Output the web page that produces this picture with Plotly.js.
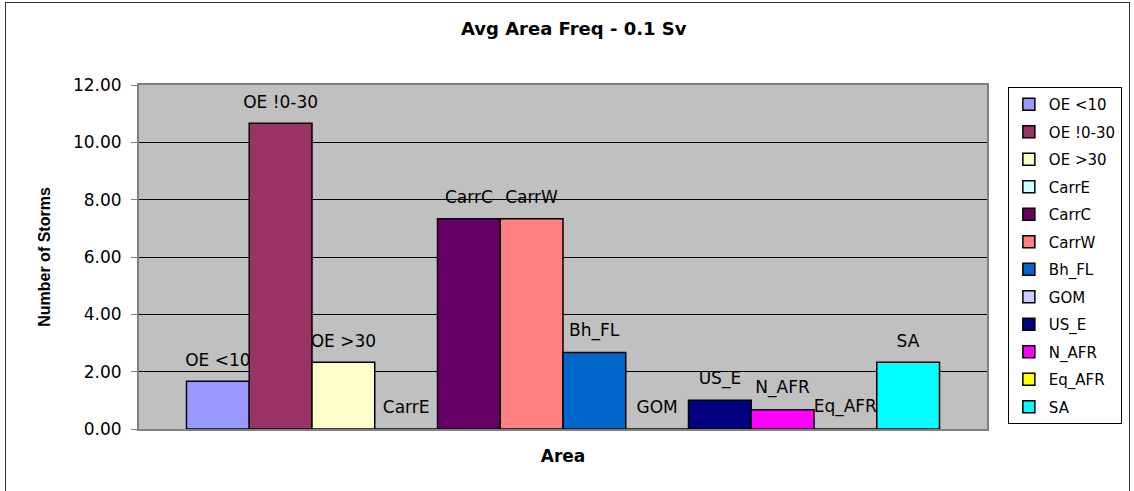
<!DOCTYPE html>
<html>
<head>
<meta charset="utf-8">
<script src="https://cdn.plot.ly/plotly-3.0.1.min.js"></script>
<style>
  html, body { margin: 0; padding: 0; background: #ffffff; }
  #wrap { position: relative; width: 1134px; height: 491px; overflow: hidden; }
  #chart { position: absolute; left: 0; top: 0; width: 1134px; height: 491px; }
  #frame { position: absolute; left: 5px; top: 2px; width: 1123px; height: 600px;
           border: 1.5px solid #333333; pointer-events: none; }
</style>
</head>
<body>
<div id="wrap">
  <div id="chart"></div>
  <div id="frame"></div>
</div>
<script>
// ---- data ----
const seriesNames = ['OE <10', 'OE !0-30', 'OE >30', 'CarrE', 'CarrC', 'CarrW',
                     'Bh_FL', 'GOM', 'US_E', 'N_AFR', 'Eq_AFR', 'SA'];
const seriesValues = [1.67, 10.67, 2.33, 0.00, 7.33, 7.33,
                      2.67, 0.00, 1.00, 0.67, 0.00, 2.33];
const seriesColors = ['#9999FF', '#993366', '#FFFFCC', '#CCFFFF', '#660066', '#FF8080',
                      '#0066CC', '#CCCCFF', '#000080', '#FF00FF', '#FFFF00', '#00FFFF'];
const category = [0];
const yTicks = [0, 2, 4, 6, 8, 10, 12];

const traces = [];
seriesNames.forEach((name, i) => {
  traces.push({
    type: 'bar',
    name: name,
    x: category,
    y: [seriesValues[i]],
    legendgroup: 'g' + i,
    marker: { color: seriesColors[i], line: { color: '#000000', width: 1.5 } },
    hoverinfo: 'skip'
  });
});
// label layer (same grouping on an overlaid axis, lifted slightly)
seriesNames.forEach((name, i) => {
  traces.push({
    type: 'bar',
    name: name,
    x: category,
    y: [seriesValues[i]],
    yaxis: 'y2',
    showlegend: false,
    legendgroup: 'g' + i,
    text: [name],
    textposition: 'outside',
    constraintext: 'none',
    cliponaxis: false,
    textfont: { family: 'DejaVu Sans', size: 17, color: '#000000' },
    marker: { color: 'rgba(0,0,0,0)', line: { width: 0 } },
    hoverinfo: 'skip'
  });
});

const layout = {
  width: 1134,
  height: 491,
  paper_bgcolor: '#ffffff',
  plot_bgcolor: '#C0C0C0',
  margin: { l: 139, r: 140, t: 85, b: 62 },
  barmode: 'group',
  bargap: 0.112,
  bargroupgap: 0,
  showlegend: true,
  hovermode: false,
  title: {
    text: 'Avg Area Freq - 0.1 Sv',
    font: { family: 'DejaVu Sans', size: 18, color: '#000000', weight: 'bold' },
    x: 0.506, xanchor: 'center',
    y: 0.941, yanchor: 'middle'
  },
  xaxis: {
    type: 'linear',
    range: [-0.5, 0.5],
    showticklabels: false,
    ticks: '',
    showgrid: false,
    zeroline: false,
    showline: true,
    mirror: true,
    linecolor: '#808080',
    linewidth: 2,
    title: {
      text: 'Area',
      font: { family: 'DejaVu Sans', size: 17, color: '#000000', weight: 'bold' },
      standoff: 20
    }
  },
  yaxis: {
    range: [0, 12],
    tickvals: yTicks,
    tickformat: '.2f',
    ticks: 'outside',
    ticklen: 6,
    tickcolor: '#808080',
    tickfont: { family: 'DejaVu Sans', size: 17, color: '#000000' },
    ticklabelstandoff: 6,
    showgrid: true,
    gridcolor: '#000000',
    gridwidth: 1,
    zeroline: false,
    showline: true,
    mirror: true,
    linecolor: '#808080',
    linewidth: 2,
    title: {
      text: 'Number of Storms',
      font: { family: 'Liberation Sans', size: 16, color: '#000000', weight: 'bold' },
      standoff: 18
    }
  },
  yaxis2: {
    overlaying: 'y',
    range: [-0.3, 11.7],
    visible: false,
    showgrid: false,
    zeroline: false
  },
  legend: {
    x: 1.0246, xanchor: 'left',
    y: 0.994, yanchor: 'top',
    bgcolor: '#ffffff',
    bordercolor: '#000000',
    borderwidth: 1,
    tracegroupgap: 5,
    traceorder: 'grouped',
    itemwidth: 30,
    font: { family: 'DejaVu Sans', size: 15, color: '#000000' }
  }
};

Plotly.newPlot('chart', traces, layout, { staticPlot: true, displayModeBar: false });
</script>
</body>
</html>
